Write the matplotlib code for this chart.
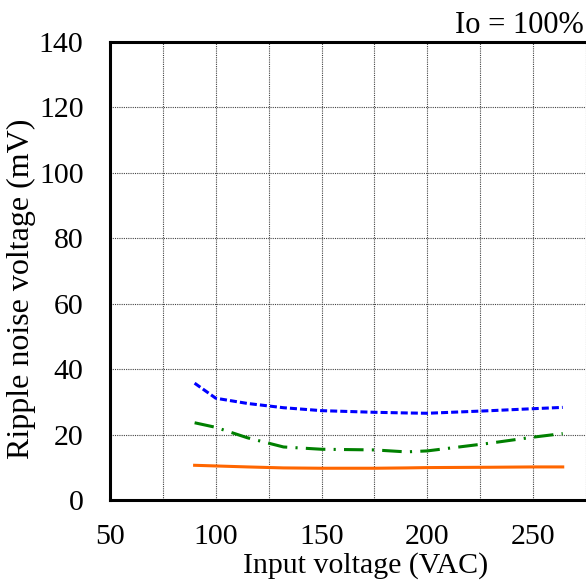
import matplotlib
matplotlib.use("Agg")
import matplotlib.pyplot as plt

plt.rcParams['font.family'] = ['Liberation Serif', 'DejaVu Serif']

# input voltage (VAC) and ripple noise (mV) at full load
vin = [90, 100, 115, 132, 150, 175, 190, 200, 230, 250, 264]
ripple_blue = [35.7, 31.1, 29.5, 28.2, 27.3, 26.8, 26.6, 26.5, 27.3, 27.9, 28.3]
ripple_green = [23.6, 22.2, 19.0, 16.2, 15.5, 15.3, 14.7, 15.0, 17.4, 19.2, 20.3]
ripple_orange = [10.6, 10.4, 10.1, 9.8, 9.7, 9.7, 9.8, 9.9, 10.0, 10.1, 10.1]

xticks = [50, 100, 150, 200, 250]
yticks = [0, 20, 40, 60, 80, 100, 120, 140]

fig = plt.figure(figsize=(5.86, 5.88), dpi=100)
ax = fig.add_axes([0.1877, 0.1497, 1 - 0.1877, 0.779])

ax.plot(vin, ripple_blue, color='#0000ff', lw=2.2, linestyle=(0, (2.3, 1.0)))
ax.plot(vin, ripple_green, color='#008000', lw=2.2, linestyle=(0, (6.4, 2.7, 0.7, 2.7)))
ax.plot(vin, ripple_orange, color='#ff6600', lw=2.2, linestyle='-')

ax.set_xlim(50, 269.4)
ax.set_ylim(0, 140)
ax.set_xticks(xticks)
ax.set_xticks([75, 125, 175, 225, 275], minor=True)
ax.set_yticks(yticks)
ax.grid(True, which='both', color='#444444', linestyle=(0, (1, 1)), lw=0.8)

ax.tick_params(axis='both', which='both', length=0, labelsize=21.5)
ax.tick_params(axis='x', pad=17)
ax.tick_params(axis='y', pad=19)

for side in ['left', 'bottom', 'top']:
    ax.spines[side].set_linewidth(2.2)
ax.spines['right'].set_visible(False)

ax.set_xlabel('Input voltage (VAC)', fontsize=21.5)
ax.xaxis.set_label_coords(0.538, -0.113)
ax.set_ylabel('Ripple noise voltage (mV)', fontsize=23)
ax.yaxis.set_label_coords(-0.155, 0.46)

fig.text(0.997, 0.957, 'Io = 100%', fontsize=22, ha='right', va='center')

fig.savefig('out.png', dpi=100)
